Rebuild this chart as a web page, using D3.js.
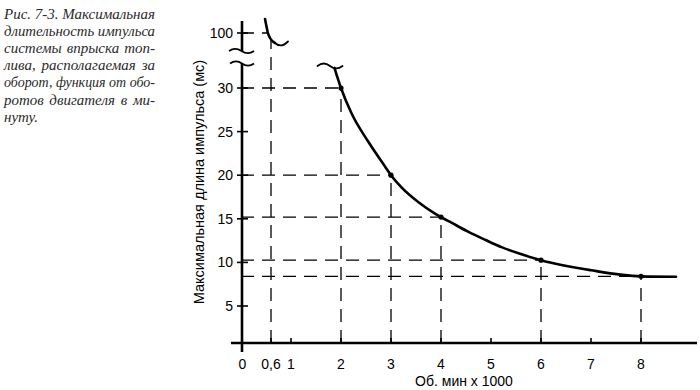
<!DOCTYPE html>
<html>
<head>
<meta charset="utf-8">
<script src="https://cdn.jsdelivr.net/npm/d3@7"></script>
<style>
  html, body { margin: 0; padding: 0; background: #fff; }
  svg { display: block; }
</style>
</head>
<body>
<svg id="chart" width="700" height="390"></svg>
<script>
// ---------------- data ----------------
const captionLines = [
  "Рис. 7-3. Максимальная",
  "длительность импульса",
  "системы впрыска топ-",
  "лива, располагаемая за",
  "оборот, функция от обо-",
  "ротов двигателя в ми-",
  "нуту."
];
const xTickValues = [0, 0.6, 1, 2, 3, 4, 5, 6, 7, 8];
const xTickLabels = ["0", "0,6", "1", "2", "3", "4", "5", "6", "7", "8"];
const yTickValues = [5, 10, 15, 20, 25, 30];
const yTopTickValues = [100];
const xTitle = "Об. мин х 1000";
const yTitle = "Максимальная длина импульса (мс)";

// marked operating points (rpm x1000, ms)
const pointRpm = [2, 3, 4, 6, 8];
const pointMs = [30, 20, 15.2, 10.25, 8.4];

// lower part of the curve
const curveRpm = [1.87, 2, 2.21, 2.55, 2.88, 3, 3.21, 3.55, 3.88, 4, 4.21, 4.55, 4.88, 5.21, 5.55, 5.88, 6, 7, 8, 8.7];
const curveMs  = [32.3, 30, 27.1, 23.8, 21.0, 20, 18.6, 16.9, 15.6, 15.2, 14.55, 13.5, 12.6, 11.75, 11.05, 10.45, 10.25, 9.1, 8.4, 8.35];

// upper (broken-axis) part of the curve
const upperRpm = [0.48, 0.51, 0.535, 0.58, 0.68];
const upperMs  = [128, 113, 101, 90, 80];
const markRpm = 0.6, markMs = 86;     // dashed marker at 0.6
const topLevel = 100, topLevelRpm = 0.535;

// ---------------- layout ----------------
const svg = d3.select("#chart");
const axisY = 343;          // pixel row of the horizontal axis
const ink = "#000";

const x = d3.scaleLinear().domain([0, 8]).range([241, 641]);
const y = d3.scaleLinear().domain([5, 30]).range([306, 88]);
const yTop = d3.scaleLinear().domain([80, 120]).range([43, 23]);

// ---------------- caption ----------------
const cap = svg.append("g")
  .attr("font-family", "'Liberation Serif', 'DejaVu Serif', serif")
  .attr("font-style", "italic")
  .attr("font-size", 15)
  .attr("fill", "#2a2a2a");
const capLeft = 4, capRight = 155;
captionLines.forEach((line, i) => {
  const t = cap.append("text").attr("y", 19 + i * 17.1);
  const words = line.split(" ");
  const spans = words.map(w => t.append("tspan").text(w));
  let widths = spans.map(s => s.node().getComputedTextLength());
  if (i < captionLines.length - 1 && words.length > 1) {
    const minGap = 3.5;
    let total = d3.sum(widths);
    const avail = capRight - capLeft - minGap * (words.length - 1);
    if (total > avail) {
      // squeeze glyphs slightly if the line would not fit
      spans.forEach((s, k) => {
        const w = widths[k] * avail / total;
        s.attr("textLength", w).attr("lengthAdjust", "spacingAndGlyphs");
        widths[k] = w;
      });
      total = d3.sum(widths);
    }
    const gap = (capRight - capLeft - total) / (words.length - 1);
    let cx = capLeft;
    spans.forEach((s, k) => { s.attr("x", cx); cx += widths[k] + gap; });
  } else {
    let cx = capLeft;
    spans.forEach((s, k) => { s.attr("x", cx); cx += widths[k] + 4; });
  }
});

// ---------------- dashed guide lines ----------------
const guides = svg.append("g")
  .attr("stroke", ink).attr("stroke-width", 1.3)
  .attr("stroke-dasharray", "13,8").attr("fill", "none");

pointRpm.forEach((r, i) => {
  guides.append("line")
    .attr("x1", x(0)).attr("x2", x(r))
    .attr("y1", y(pointMs[i])).attr("y2", y(pointMs[i]));
  guides.append("line")
    .attr("x1", x(r)).attr("x2", x(r))
    .attr("y1", axisY).attr("y2", y(pointMs[i]));
});
// top level (100) and the 0.6 marker
guides.append("line")
  .attr("x1", x(0)).attr("x2", x(topLevelRpm))
  .attr("y1", yTop(topLevel)).attr("y2", yTop(topLevel));
guides.append("line")
  .attr("x1", x(markRpm)).attr("x2", x(markRpm))
  .attr("y1", axisY).attr("y2", yTop(markMs));

// ---------------- axes ----------------
const axes = svg.append("g").attr("stroke", ink).attr("fill", "none");

function wavePath(x0, y0, w, a) {
  return `M${x0},${y0} q${w / 4},${-2 * a} ${w / 2},0 t${w / 2},0`;
}

// horizontal axis
axes.append("line")
  .attr("x1", x(0) - 10).attr("x2", 697)
  .attr("y1", axisY).attr("y2", axisY)
  .attr("stroke-width", 2.6);
// vertical axis: upper short part and lower long part with a break
const breakTop = 51, breakBottom = 63.5;
axes.append("line")
  .attr("x1", x(0) + 1).attr("x2", x(0) + 1)
  .attr("y1", 21).attr("y2", breakTop)
  .attr("stroke-width", 2.6);
axes.append("line")
  .attr("x1", x(0) + 1).attr("x2", x(0) + 1)
  .attr("y1", breakBottom).attr("y2", axisY + 9)
  .attr("stroke-width", 2.6);
axes.append("path").attr("d", wavePath(x(0) - 12, breakTop, 25, 2.2)).attr("stroke-width", 1.8);
axes.append("path").attr("d", wavePath(x(0) - 11, breakBottom, 24, 2.2)).attr("stroke-width", 1.8);

// y ticks (crossing the axis)
const yTickG = svg.append("g")
  .attr("font-family", "'Liberation Sans', Arial, sans-serif")
  .attr("font-size", 14).attr("fill", ink);
yTickValues.forEach(v => {
  yTickG.append("line").attr("x1", x(0) - 4).attr("x2", x(0) + 7)
    .attr("y1", y(v)).attr("y2", y(v)).attr("stroke", ink).attr("stroke-width", 1.6);
  yTickG.append("text").attr("x", x(0) - 8).attr("y", y(v)).attr("dy", "0.36em")
    .attr("text-anchor", "end").text(v);
});
yTopTickValues.forEach(v => {
  yTickG.append("line").attr("x1", x(0) - 4).attr("x2", x(0) + 7)
    .attr("y1", yTop(v)).attr("y2", yTop(v)).attr("stroke", ink).attr("stroke-width", 1.6);
  yTickG.append("text").attr("x", x(0) - 8).attr("y", yTop(v)).attr("dy", "0.36em")
    .attr("text-anchor", "end").text(v);
});

// x ticks (small, upward) and labels
const xTickG = svg.append("g")
  .attr("font-family", "'Liberation Sans', Arial, sans-serif")
  .attr("font-size", 14).attr("fill", ink);
xTickValues.forEach((v, i) => {
  if (v > 0) {
    xTickG.append("line").attr("x1", x(v)).attr("x2", x(v))
      .attr("y1", axisY).attr("y2", axisY - 5)
      .attr("stroke", ink).attr("stroke-width", 1.6);
  }
  xTickG.append("text").attr("x", x(v) + (v === 0 ? 1.5 : 0)).attr("y", axisY + 26)
    .attr("text-anchor", "middle").text(xTickLabels[i]);
});

// axis titles
svg.append("text")
  .attr("x", 464).attr("y", 386)
  .attr("text-anchor", "middle")
  .attr("font-family", "'Liberation Sans', Arial, sans-serif")
  .attr("font-size", 14).attr("fill", ink)
  .text(xTitle);
svg.append("text")
  .attr("transform", "translate(204,182) rotate(-90)")
  .attr("text-anchor", "middle")
  .attr("font-family", "'Liberation Sans', Arial, sans-serif")
  .attr("font-size", 14.5).attr("fill", ink)
  .text(yTitle);

// ---------------- curves ----------------
const lower = curveRpm.map((r, i) => [r, curveMs[i]]);
const upper = upperRpm.map((r, i) => [r, upperMs[i]]);

const lineLower = d3.line().x(d => x(d[0])).y(d => y(d[1])).curve(d3.curveMonotoneX);
const lineUpper = d3.line().x(d => x(d[0])).y(d => yTop(d[1])).curve(d3.curveMonotoneX);

const curves = svg.append("g").attr("fill", "none").attr("stroke", ink)
  .attr("stroke-width", 2.6).attr("stroke-linecap", "round");
curves.append("path").attr("d", lineLower(lower));
curves.append("path").attr("d", lineUpper(upper));

// break waves at curve ends
const endU = upper[upper.length - 1];
const ux = x(endU[0]), uy = yTop(endU[1]);
curves.append("path")
  .attr("d", `M${ux},${uy} q6,5.5 13,-1.5`)
  .attr("stroke-width", 1.8);
const startL = lower[0];
const lx = x(startL[0]), ly = y(startL[1]);
curves.append("path")
  .attr("d", wavePath(lx - 17, ly - 2, 25, 2.4))
  .attr("stroke-width", 1.8);

// ---------------- points ----------------
svg.append("g").selectAll("circle")
  .data(pointRpm.map((r, i) => [r, pointMs[i]]))
  .join("circle")
  .attr("cx", d => x(d[0])).attr("cy", d => y(d[1]))
  .attr("r", 2.6).attr("fill", ink);
</script>
</body>
</html>
